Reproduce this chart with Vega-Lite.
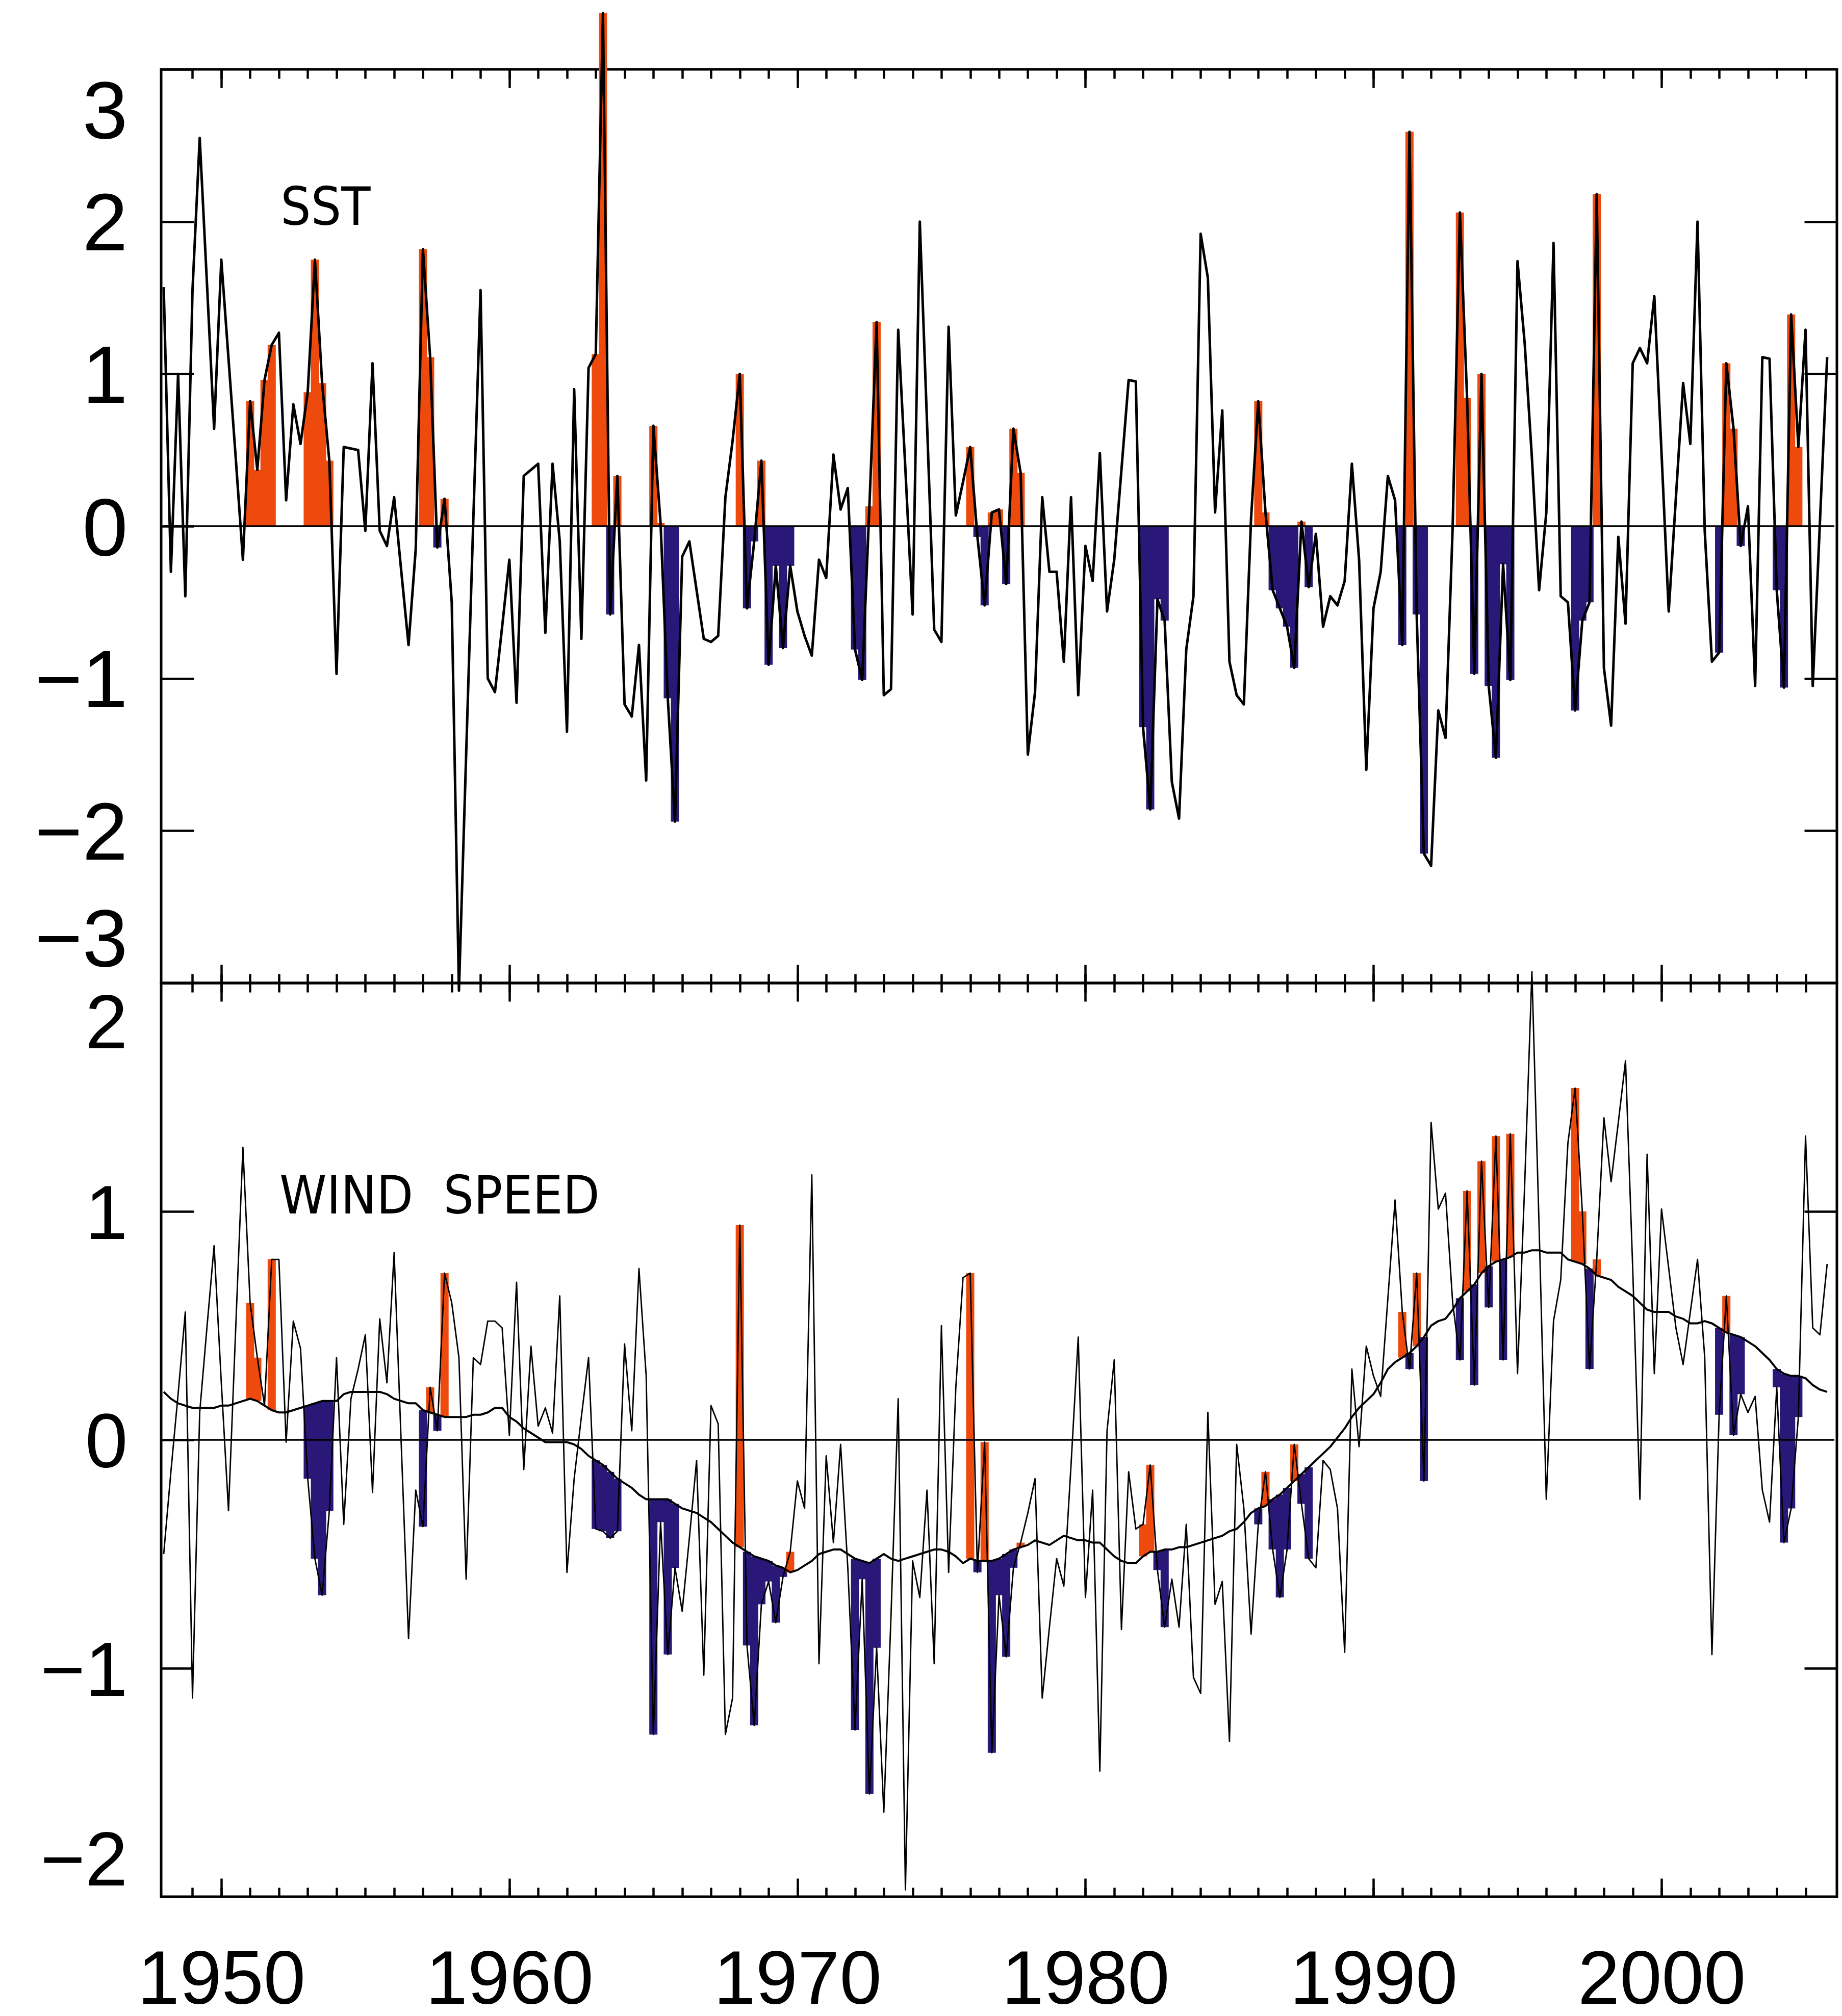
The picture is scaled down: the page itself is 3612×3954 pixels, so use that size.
{
"$schema": "https://vega.github.io/schema/vega-lite/v6.json",
"padding": {"left": 65, "top": 20, "right": 0, "bottom": 0},
"spacing": 0,
"bounds": "flush",
"config": {
  "view": {"stroke": "#000000", "strokeWidth": 5},
  "axis": {"domain": false, "grid": false, "tickColor": "#000000", "tickWidth": 4.5, "labelColor": "#000000", "labelFont": "Liberation Sans", "labelOverlap": false, "labelLimit": 1000}
},
"datasets": {"d": [
{"t":1948,"sst":1.57,"wind":-0.50,"smooth":0.21,"ev":0},
{"t":1948.25,"sst":-0.30,"wind":-0.14,"smooth":0.18,"ev":0},
{"t":1948.5,"sst":1.00,"wind":0.20,"smooth":0.16,"ev":0},
{"t":1948.75,"sst":-0.46,"wind":0.56,"smooth":0.15,"ev":0},
{"t":1949,"sst":1.55,"wind":-1.13,"smooth":0.14,"ev":0},
{"t":1949.25,"sst":2.55,"wind":0.12,"smooth":0.14,"ev":0},
{"t":1949.5,"sst":1.60,"wind":0.49,"smooth":0.14,"ev":0},
{"t":1949.75,"sst":0.64,"wind":0.85,"smooth":0.14,"ev":0},
{"t":1950,"sst":1.75,"wind":0.25,"smooth":0.15,"ev":0},
{"t":1950.25,"sst":1.10,"wind":-0.31,"smooth":0.15,"ev":0},
{"t":1950.5,"sst":0.45,"wind":0.49,"smooth":0.16,"ev":0},
{"t":1950.75,"sst":-0.22,"wind":1.28,"smooth":0.17,"ev":0},
{"t":1951,"sst":0.82,"wind":0.60,"smooth":0.18,"ev":1},
{"t":1951.25,"sst":0.37,"wind":0.36,"smooth":0.17,"ev":1},
{"t":1951.5,"sst":0.96,"wind":0.15,"smooth":0.15,"ev":1},
{"t":1951.75,"sst":1.19,"wind":0.79,"smooth":0.13,"ev":1},
{"t":1952,"sst":1.27,"wind":0.79,"smooth":0.12,"ev":0},
{"t":1952.25,"sst":0.17,"wind":-0.01,"smooth":0.12,"ev":0},
{"t":1952.5,"sst":0.80,"wind":0.52,"smooth":0.13,"ev":0},
{"t":1952.75,"sst":0.54,"wind":0.40,"smooth":0.14,"ev":0},
{"t":1953,"sst":0.88,"wind":-0.17,"smooth":0.15,"ev":1},
{"t":1953.25,"sst":1.75,"wind":-0.52,"smooth":0.16,"ev":1},
{"t":1953.5,"sst":0.94,"wind":-0.68,"smooth":0.17,"ev":1},
{"t":1953.75,"sst":0.43,"wind":-0.31,"smooth":0.17,"ev":1},
{"t":1954,"sst":-0.97,"wind":0.36,"smooth":0.17,"ev":0},
{"t":1954.25,"sst":0.52,"wind":-0.37,"smooth":0.20,"ev":0},
{"t":1954.5,"sst":0.51,"wind":0.18,"smooth":0.21,"ev":0},
{"t":1954.75,"sst":0.50,"wind":0.31,"smooth":0.21,"ev":0},
{"t":1955,"sst":-0.03,"wind":0.46,"smooth":0.21,"ev":0},
{"t":1955.25,"sst":1.07,"wind":-0.23,"smooth":0.21,"ev":0},
{"t":1955.5,"sst":-0.03,"wind":0.53,"smooth":0.21,"ev":0},
{"t":1955.75,"sst":-0.13,"wind":0.25,"smooth":0.20,"ev":0},
{"t":1956,"sst":0.19,"wind":0.82,"smooth":0.18,"ev":0},
{"t":1956.25,"sst":-0.30,"wind":-0.03,"smooth":0.17,"ev":0},
{"t":1956.5,"sst":-0.78,"wind":-0.87,"smooth":0.16,"ev":0},
{"t":1956.75,"sst":-0.15,"wind":-0.22,"smooth":0.16,"ev":0},
{"t":1957,"sst":1.82,"wind":-0.38,"smooth":0.13,"ev":1},
{"t":1957.25,"sst":1.11,"wind":0.23,"smooth":0.12,"ev":1},
{"t":1957.5,"sst":-0.14,"wind":0.04,"smooth":0.11,"ev":1},
{"t":1957.75,"sst":0.18,"wind":0.73,"smooth":0.10,"ev":1},
{"t":1958,"sst":-0.50,"wind":0.60,"smooth":0.10,"ev":0},
{"t":1958.25,"sst":-3.05,"wind":0.36,"smooth":0.10,"ev":0},
{"t":1958.5,"sst":-1.50,"wind":-0.61,"smooth":0.10,"ev":0},
{"t":1958.75,"sst":0.05,"wind":0.36,"smooth":0.11,"ev":0},
{"t":1959,"sst":1.55,"wind":0.33,"smooth":0.11,"ev":0},
{"t":1959.25,"sst":-1.00,"wind":0.52,"smooth":0.12,"ev":0},
{"t":1959.5,"sst":-1.09,"wind":0.52,"smooth":0.14,"ev":0},
{"t":1959.75,"sst":-0.66,"wind":0.49,"smooth":0.14,"ev":0},
{"t":1960,"sst":-0.22,"wind":0.02,"smooth":0.10,"ev":0},
{"t":1960.25,"sst":-1.16,"wind":0.69,"smooth":0.08,"ev":0},
{"t":1960.5,"sst":0.33,"wind":-0.13,"smooth":0.05,"ev":0},
{"t":1960.75,"sst":0.37,"wind":0.41,"smooth":0.03,"ev":0},
{"t":1961,"sst":0.41,"wind":0.06,"smooth":0.01,"ev":0},
{"t":1961.25,"sst":-0.70,"wind":0.14,"smooth":-0.01,"ev":0},
{"t":1961.5,"sst":0.41,"wind":0.03,"smooth":-0.01,"ev":0},
{"t":1961.75,"sst":-0.10,"wind":0.63,"smooth":-0.01,"ev":0},
{"t":1962,"sst":-1.35,"wind":-0.58,"smooth":-0.01,"ev":0},
{"t":1962.25,"sst":0.90,"wind":-0.17,"smooth":-0.02,"ev":0},
{"t":1962.5,"sst":-0.74,"wind":0.10,"smooth":-0.04,"ev":0},
{"t":1962.75,"sst":1.04,"wind":0.36,"smooth":-0.07,"ev":0},
{"t":1963,"sst":1.13,"wind":-0.39,"smooth":-0.09,"ev":1},
{"t":1963.25,"sst":3.37,"wind":-0.40,"smooth":-0.11,"ev":1},
{"t":1963.5,"sst":-0.58,"wind":-0.43,"smooth":-0.14,"ev":1},
{"t":1963.75,"sst":0.33,"wind":-0.40,"smooth":-0.17,"ev":1},
{"t":1964,"sst":-1.17,"wind":0.42,"smooth":-0.19,"ev":0},
{"t":1964.25,"sst":-1.25,"wind":0.04,"smooth":-0.21,"ev":0},
{"t":1964.5,"sst":-0.78,"wind":0.75,"smooth":-0.24,"ev":0},
{"t":1964.75,"sst":-1.67,"wind":0.28,"smooth":-0.26,"ev":0},
{"t":1965,"sst":0.66,"wind":-1.29,"smooth":-0.26,"ev":1},
{"t":1965.25,"sst":0.02,"wind":-0.36,"smooth":-0.26,"ev":1},
{"t":1965.5,"sst":-1.13,"wind":-0.94,"smooth":-0.26,"ev":1},
{"t":1965.75,"sst":-1.94,"wind":-0.56,"smooth":-0.28,"ev":1},
{"t":1966,"sst":-0.20,"wind":-0.75,"smooth":-0.30,"ev":0},
{"t":1966.25,"sst":-0.10,"wind":-0.43,"smooth":-0.31,"ev":0},
{"t":1966.5,"sst":-0.42,"wind":-0.09,"smooth":-0.32,"ev":0},
{"t":1966.75,"sst":-0.74,"wind":-1.03,"smooth":-0.34,"ev":0},
{"t":1967,"sst":-0.76,"wind":0.15,"smooth":-0.36,"ev":0},
{"t":1967.25,"sst":-0.72,"wind":0.07,"smooth":-0.39,"ev":0},
{"t":1967.5,"sst":0.19,"wind":-1.29,"smooth":-0.42,"ev":0},
{"t":1967.75,"sst":0.56,"wind":-1.13,"smooth":-0.45,"ev":0},
{"t":1968,"sst":1.00,"wind":0.94,"smooth":-0.47,"ev":1},
{"t":1968.25,"sst":-0.54,"wind":-0.90,"smooth":-0.49,"ev":1},
{"t":1968.5,"sst":-0.10,"wind":-1.25,"smooth":-0.51,"ev":1},
{"t":1968.75,"sst":0.43,"wind":-0.72,"smooth":-0.52,"ev":1},
{"t":1969,"sst":-0.91,"wind":-0.62,"smooth":-0.53,"ev":1},
{"t":1969.25,"sst":-0.26,"wind":-0.80,"smooth":-0.55,"ev":1},
{"t":1969.5,"sst":-0.80,"wind":-0.60,"smooth":-0.56,"ev":1},
{"t":1969.75,"sst":-0.26,"wind":-0.49,"smooth":-0.58,"ev":1},
{"t":1970,"sst":-0.56,"wind":-0.18,"smooth":-0.57,"ev":0},
{"t":1970.25,"sst":-0.72,"wind":-0.30,"smooth":-0.55,"ev":0},
{"t":1970.5,"sst":-0.85,"wind":1.16,"smooth":-0.53,"ev":0},
{"t":1970.75,"sst":-0.22,"wind":-0.98,"smooth":-0.50,"ev":0},
{"t":1971,"sst":-0.34,"wind":-0.07,"smooth":-0.49,"ev":0},
{"t":1971.25,"sst":0.47,"wind":-0.45,"smooth":-0.48,"ev":0},
{"t":1971.5,"sst":0.11,"wind":-0.02,"smooth":-0.48,"ev":0},
{"t":1971.75,"sst":0.25,"wind":-0.56,"smooth":-0.50,"ev":0},
{"t":1972,"sst":-0.81,"wind":-1.27,"smooth":-0.52,"ev":1},
{"t":1972.25,"sst":-1.01,"wind":-0.61,"smooth":-0.53,"ev":1},
{"t":1972.5,"sst":0.13,"wind":-1.55,"smooth":-0.54,"ev":1},
{"t":1972.75,"sst":1.34,"wind":-0.91,"smooth":-0.52,"ev":1},
{"t":1973,"sst":-1.11,"wind":-1.63,"smooth":-0.50,"ev":0},
{"t":1973.25,"sst":-1.07,"wind":-0.77,"smooth":-0.52,"ev":0},
{"t":1973.5,"sst":1.29,"wind":0.18,"smooth":-0.53,"ev":0},
{"t":1973.75,"sst":0.37,"wind":-1.97,"smooth":-0.52,"ev":0},
{"t":1974,"sst":-0.58,"wind":-0.53,"smooth":-0.51,"ev":0},
{"t":1974.25,"sst":2.00,"wind":-0.69,"smooth":-0.50,"ev":0},
{"t":1974.5,"sst":0.68,"wind":-0.22,"smooth":-0.49,"ev":0},
{"t":1974.75,"sst":-0.68,"wind":-0.98,"smooth":-0.48,"ev":0},
{"t":1975,"sst":-0.76,"wind":0.50,"smooth":-0.48,"ev":0},
{"t":1975.25,"sst":1.31,"wind":-0.58,"smooth":-0.49,"ev":0},
{"t":1975.5,"sst":0.07,"wind":0.23,"smooth":-0.51,"ev":0},
{"t":1975.75,"sst":0.29,"wind":0.71,"smooth":-0.54,"ev":0},
{"t":1976,"sst":0.52,"wind":0.73,"smooth":-0.52,"ev":1},
{"t":1976.25,"sst":-0.07,"wind":-0.58,"smooth":-0.53,"ev":1},
{"t":1976.5,"sst":-0.52,"wind":-0.01,"smooth":-0.53,"ev":1},
{"t":1976.75,"sst":0.09,"wind":-1.37,"smooth":-0.53,"ev":1},
{"t":1977,"sst":0.11,"wind":-0.68,"smooth":-0.52,"ev":1},
{"t":1977.25,"sst":-0.38,"wind":-0.95,"smooth":-0.50,"ev":1},
{"t":1977.5,"sst":0.64,"wind":-0.56,"smooth":-0.48,"ev":1},
{"t":1977.75,"sst":0.35,"wind":-0.45,"smooth":-0.47,"ev":1},
{"t":1978,"sst":-1.50,"wind":-0.32,"smooth":-0.46,"ev":0},
{"t":1978.25,"sst":-1.09,"wind":-0.17,"smooth":-0.44,"ev":0},
{"t":1978.5,"sst":0.19,"wind":-1.13,"smooth":-0.45,"ev":0},
{"t":1978.75,"sst":-0.30,"wind":-0.82,"smooth":-0.46,"ev":0},
{"t":1979,"sst":-0.30,"wind":-0.52,"smooth":-0.44,"ev":0},
{"t":1979.25,"sst":-0.89,"wind":-0.64,"smooth":-0.42,"ev":0},
{"t":1979.5,"sst":0.19,"wind":-0.11,"smooth":-0.43,"ev":0},
{"t":1979.75,"sst":-1.11,"wind":0.45,"smooth":-0.44,"ev":0},
{"t":1980,"sst":-0.13,"wind":-0.69,"smooth":-0.44,"ev":0},
{"t":1980.25,"sst":-0.36,"wind":-0.22,"smooth":-0.45,"ev":0},
{"t":1980.5,"sst":0.48,"wind":-1.45,"smooth":-0.45,"ev":0},
{"t":1980.75,"sst":-0.56,"wind":0.04,"smooth":-0.48,"ev":0},
{"t":1981,"sst":-0.22,"wind":0.35,"smooth":-0.51,"ev":0},
{"t":1981.25,"sst":0.37,"wind":-0.83,"smooth":-0.53,"ev":0},
{"t":1981.5,"sst":0.96,"wind":-0.14,"smooth":-0.54,"ev":0},
{"t":1981.75,"sst":0.95,"wind":-0.39,"smooth":-0.54,"ev":0},
{"t":1982,"sst":-1.32,"wind":-0.37,"smooth":-0.51,"ev":1},
{"t":1982.25,"sst":-1.86,"wind":-0.11,"smooth":-0.49,"ev":1},
{"t":1982.5,"sst":-0.48,"wind":-0.57,"smooth":-0.49,"ev":1},
{"t":1982.75,"sst":-0.62,"wind":-0.82,"smooth":-0.48,"ev":1},
{"t":1983,"sst":-1.68,"wind":-0.61,"smooth":-0.48,"ev":0},
{"t":1983.25,"sst":-1.92,"wind":-0.82,"smooth":-0.47,"ev":0},
{"t":1983.5,"sst":-0.81,"wind":-0.37,"smooth":-0.47,"ev":0},
{"t":1983.75,"sst":-0.46,"wind":-1.04,"smooth":-0.46,"ev":0},
{"t":1984,"sst":1.92,"wind":-1.11,"smooth":-0.45,"ev":0},
{"t":1984.25,"sst":1.63,"wind":0.12,"smooth":-0.44,"ev":0},
{"t":1984.5,"sst":0.09,"wind":-0.72,"smooth":-0.43,"ev":0},
{"t":1984.75,"sst":0.76,"wind":-0.62,"smooth":-0.42,"ev":0},
{"t":1985,"sst":-0.89,"wind":-1.32,"smooth":-0.40,"ev":0},
{"t":1985.25,"sst":-1.11,"wind":-0.02,"smooth":-0.39,"ev":0},
{"t":1985.5,"sst":-1.17,"wind":-0.30,"smooth":-0.36,"ev":0},
{"t":1985.75,"sst":0.05,"wind":-0.85,"smooth":-0.32,"ev":0},
{"t":1986,"sst":0.82,"wind":-0.37,"smooth":-0.30,"ev":1},
{"t":1986.25,"sst":0.09,"wind":-0.14,"smooth":-0.29,"ev":1},
{"t":1986.5,"sst":-0.42,"wind":-0.48,"smooth":-0.26,"ev":1},
{"t":1986.75,"sst":-0.54,"wind":-0.69,"smooth":-0.24,"ev":1},
{"t":1987,"sst":-0.66,"wind":-0.48,"smooth":-0.21,"ev":1},
{"t":1987.25,"sst":-0.93,"wind":-0.02,"smooth":-0.18,"ev":1},
{"t":1987.5,"sst":0.03,"wind":-0.28,"smooth":-0.15,"ev":1},
{"t":1987.75,"sst":-0.40,"wind":-0.52,"smooth":-0.12,"ev":1},
{"t":1988,"sst":-0.05,"wind":-0.56,"smooth":-0.09,"ev":0},
{"t":1988.25,"sst":-0.66,"wind":-0.09,"smooth":-0.06,"ev":0},
{"t":1988.5,"sst":-0.46,"wind":-0.13,"smooth":-0.03,"ev":0},
{"t":1988.75,"sst":-0.52,"wind":-0.30,"smooth":0.01,"ev":0},
{"t":1989,"sst":-0.36,"wind":-0.93,"smooth":0.05,"ev":0},
{"t":1989.25,"sst":0.41,"wind":0.31,"smooth":0.10,"ev":0},
{"t":1989.5,"sst":-0.22,"wind":-0.03,"smooth":0.14,"ev":0},
{"t":1989.75,"sst":-1.60,"wind":0.41,"smooth":0.17,"ev":0},
{"t":1990,"sst":-0.54,"wind":0.28,"smooth":0.20,"ev":0},
{"t":1990.25,"sst":-0.30,"wind":0.19,"smooth":0.25,"ev":0},
{"t":1990.5,"sst":0.33,"wind":0.62,"smooth":0.31,"ev":0},
{"t":1990.75,"sst":0.17,"wind":1.05,"smooth":0.34,"ev":0},
{"t":1991,"sst":-0.78,"wind":0.56,"smooth":0.36,"ev":1},
{"t":1991.25,"sst":2.59,"wind":0.31,"smooth":0.38,"ev":1},
{"t":1991.5,"sst":-0.58,"wind":0.73,"smooth":0.41,"ev":1},
{"t":1991.75,"sst":-2.15,"wind":-0.18,"smooth":0.45,"ev":1},
{"t":1992,"sst":-2.23,"wind":1.39,"smooth":0.50,"ev":0},
{"t":1992.25,"sst":-1.21,"wind":1.01,"smooth":0.52,"ev":0},
{"t":1992.5,"sst":-1.39,"wind":1.08,"smooth":0.53,"ev":0},
{"t":1992.75,"sst":0.00,"wind":0.60,"smooth":0.57,"ev":0},
{"t":1993,"sst":2.06,"wind":0.35,"smooth":0.62,"ev":1},
{"t":1993.25,"sst":0.84,"wind":1.09,"smooth":0.65,"ev":1},
{"t":1993.5,"sst":-0.97,"wind":0.24,"smooth":0.68,"ev":1},
{"t":1993.75,"sst":1.00,"wind":1.22,"smooth":0.73,"ev":1},
{"t":1994,"sst":-1.05,"wind":0.58,"smooth":0.76,"ev":1},
{"t":1994.25,"sst":-1.52,"wind":1.33,"smooth":0.78,"ev":1},
{"t":1994.5,"sst":-0.25,"wind":0.35,"smooth":0.79,"ev":1},
{"t":1994.75,"sst":-1.01,"wind":1.34,"smooth":0.80,"ev":1},
{"t":1995,"sst":1.74,"wind":0.29,"smooth":0.82,"ev":0},
{"t":1995.25,"sst":1.20,"wind":1.12,"smooth":0.82,"ev":0},
{"t":1995.5,"sst":0.45,"wind":2.05,"smooth":0.83,"ev":0},
{"t":1995.75,"sst":-0.42,"wind":0.93,"smooth":0.83,"ev":0},
{"t":1996,"sst":0.09,"wind":-0.26,"smooth":0.82,"ev":0},
{"t":1996.25,"sst":1.86,"wind":0.52,"smooth":0.82,"ev":0},
{"t":1996.5,"sst":-0.46,"wind":0.70,"smooth":0.82,"ev":0},
{"t":1996.75,"sst":-0.50,"wind":1.30,"smooth":0.79,"ev":0},
{"t":1997,"sst":-1.21,"wind":1.54,"smooth":0.78,"ev":1},
{"t":1997.25,"sst":-0.62,"wind":1.00,"smooth":0.77,"ev":1},
{"t":1997.5,"sst":-0.50,"wind":0.31,"smooth":0.75,"ev":1},
{"t":1997.75,"sst":2.18,"wind":0.79,"smooth":0.72,"ev":1},
{"t":1998,"sst":-0.93,"wind":1.41,"smooth":0.71,"ev":0},
{"t":1998.25,"sst":-1.31,"wind":1.13,"smooth":0.70,"ev":0},
{"t":1998.5,"sst":-0.07,"wind":1.39,"smooth":0.67,"ev":0},
{"t":1998.75,"sst":-0.64,"wind":1.66,"smooth":0.65,"ev":0},
{"t":1999,"sst":1.07,"wind":0.75,"smooth":0.63,"ev":0},
{"t":1999.25,"sst":1.17,"wind":-0.26,"smooth":0.60,"ev":0},
{"t":1999.5,"sst":1.07,"wind":1.25,"smooth":0.57,"ev":0},
{"t":1999.75,"sst":1.51,"wind":0.29,"smooth":0.56,"ev":0},
{"t":2000,"sst":0.48,"wind":1.01,"smooth":0.56,"ev":0},
{"t":2000.25,"sst":-0.56,"wind":0.75,"smooth":0.56,"ev":0},
{"t":2000.5,"sst":0.19,"wind":0.49,"smooth":0.54,"ev":0},
{"t":2000.75,"sst":0.94,"wind":0.33,"smooth":0.53,"ev":0},
{"t":2001,"sst":0.54,"wind":0.56,"smooth":0.51,"ev":0},
{"t":2001.25,"sst":2.00,"wind":0.79,"smooth":0.51,"ev":0},
{"t":2001.5,"sst":-0.03,"wind":0.36,"smooth":0.52,"ev":0},
{"t":2001.75,"sst":-0.89,"wind":-0.94,"smooth":0.51,"ev":0},
{"t":2002,"sst":-0.83,"wind":0.11,"smooth":0.49,"ev":1},
{"t":2002.25,"sst":1.07,"wind":0.63,"smooth":0.47,"ev":1},
{"t":2002.5,"sst":0.64,"wind":0.02,"smooth":0.46,"ev":1},
{"t":2002.75,"sst":-0.13,"wind":0.20,"smooth":0.45,"ev":1},
{"t":2003,"sst":0.13,"wind":0.12,"smooth":0.43,"ev":0},
{"t":2003.25,"sst":-1.05,"wind":0.19,"smooth":0.41,"ev":0},
{"t":2003.5,"sst":1.11,"wind":-0.22,"smooth":0.38,"ev":0},
{"t":2003.75,"sst":1.10,"wind":-0.36,"smooth":0.35,"ev":0},
{"t":2004,"sst":-0.42,"wind":0.23,"smooth":0.31,"ev":1},
{"t":2004.25,"sst":-1.06,"wind":-0.45,"smooth":0.29,"ev":1},
{"t":2004.5,"sst":1.39,"wind":-0.30,"smooth":0.28,"ev":1},
{"t":2004.75,"sst":0.52,"wind":0.10,"smooth":0.28,"ev":1},
{"t":2005,"sst":1.29,"wind":1.33,"smooth":0.27,"ev":0},
{"t":2005.25,"sst":-1.05,"wind":0.49,"smooth":0.24,"ev":0},
{"t":2005.5,"sst":0.03,"wind":0.46,"smooth":0.22,"ev":0},
{"t":2005.75,"sst":1.11,"wind":0.77,"smooth":0.21,"ev":0}
]},
"vconcat": [
{
  "width": 3286, "height": 1792,
  "data": {"name": "d"},
  "resolve": {"axis": {"x": "independent", "y": "independent"}},
  "layer": [
    {
      "transform": [{"filter": "datum.ev == 1"}],
      "mark": {"type": "bar", "width": 16},
      "encoding": {
        "x": {"field": "t", "type": "quantitative", "scale": {"domain": [1948, 2006], "nice": false, "zero": false},
              "axis": {"orient": "top", "values": [1950, 1960, 1970, 1980, 1990, 2000], "tickSize": -36, "labels": false, "title": null}},
        "y": {"field": "sst", "type": "quantitative", "scale": {"domain": [-3, 3], "nice": false},
              "axis": {"orient": "right", "values": [-2, -1, 1, 2], "tickSize": -64, "labels": false, "title": null}},
        "y2": {"datum": 0},
        "color": {"condition": {"test": "datum.sst > 0", "value": "#EE4A0E"}, "value": "#2A1878"}
      }
    },
    {
      "mark": {"type": "line", "color": "#000000", "strokeWidth": 5, "strokeJoin": "round"},
      "encoding": {
        "x": {"field": "t", "type": "quantitative", "scale": {"domain": [1948, 2006], "nice": false, "zero": false},
              "axis": {"orient": "bottom", "values": [1950, 1960, 1970, 1980, 1990, 2000], "tickSize": -36, "labels": false, "title": null}},
        "y": {"field": "sst", "type": "quantitative", "scale": {"domain": [-3, 3], "nice": false},
              "axis": {"orient": "left", "values": [-3, -2, -1, 0, 1, 2, 3], "tickSize": -64, "labelPadding": 130, "labelFontSize": 160, "labelFlush": true,
                       "labelOffset": {"condition": {"test": "datum.value == -3", "value": 0}, "value": 8}, "title": null}}
      }
    },
    {
      "data": {"values": [{}]},
      "mark": {"type": "rule", "color": "#000000", "strokeWidth": 3.5},
      "encoding": {
        "x": {"datum": 1948, "type": "quantitative",
              "axis": {"orient": "top", "values": [1949,1950,1951,1952,1953,1954,1955,1956,1957,1958,1959,1960,1961,1962,1963,1964,1965,1966,1967,1968,1969,1970,1971,1972,1973,1974,1975,1976,1977,1978,1979,1980,1981,1982,1983,1984,1985,1986,1987,1988,1989,1990,1991,1992,1993,1994,1995,1996,1997,1998,1999,2000,2001,2002,2003,2004,2005], "tickSize": -18, "labels": false, "title": null}},
        "x2": {"datum": 2006},
        "y": {"datum": 0, "type": "quantitative", "axis": null}
      }
    },
    {
      "data": {"values": [{}]},
      "mark": {"type": "text", "text": "SST", "font": "Liberation Sans Narrow, DejaVu Sans Condensed, Liberation Sans", "fontSize": 104, "align": "left", "baseline": "alphabetic", "color": "#000000"},
      "encoding": {
        "x": {"datum": 1952.06, "type": "quantitative",
              "axis": {"orient": "bottom", "values": [1949,1950,1951,1952,1953,1954,1955,1956,1957,1958,1959,1960,1961,1962,1963,1964,1965,1966,1967,1968,1969,1970,1971,1972,1973,1974,1975,1976,1977,1978,1979,1980,1981,1982,1983,1984,1985,1986,1987,1988,1989,1990,1991,1992,1993,1994,1995,1996,1997,1998,1999,2000,2001,2002,2003,2004,2005], "tickSize": -18, "labels": false, "title": null}},
        "y": {"datum": 1.98, "type": "quantitative", "axis": null}
      }
    }
  ]
},
{
  "width": 3286, "height": 1792,
  "data": {"name": "d"},
  "resolve": {"axis": {"x": "independent", "y": "independent"}},
  "layer": [
    {
      "transform": [{"filter": "datum.ev == 1"}],
      "mark": {"type": "bar", "width": 16},
      "encoding": {
        "x": {"field": "t", "type": "quantitative", "scale": {"domain": [1948, 2006], "nice": false, "zero": false},
              "axis": {"orient": "top", "values": [1950, 1960, 1970, 1980, 1990, 2000], "tickSize": -36, "labels": false, "title": null}},
        "y": {"field": "wind", "type": "quantitative", "scale": {"domain": [-2, 2], "nice": false},
              "axis": {"orient": "right", "values": [-1, 1], "tickSize": -64, "labels": false, "title": null}},
        "y2": {"field": "smooth"},
        "color": {"condition": {"test": "datum.wind > datum.smooth", "value": "#EE4A0E"}, "value": "#2A1878"}
      }
    },
    {
      "mark": {"type": "line", "color": "#000000", "strokeWidth": 2.8, "strokeJoin": "round"},
      "encoding": {
        "x": {"field": "t", "type": "quantitative", "scale": {"domain": [1948, 2006], "nice": false, "zero": false},
              "axis": {"orient": "bottom", "values": [1950, 1960, 1970, 1980, 1990, 2000], "format": "d", "tickSize": -36, "labelPadding": 128, "labelFontSize": 148, "labelFlush": false, "title": null}},
        "y": {"field": "wind", "type": "quantitative", "scale": {"domain": [-2, 2], "nice": false},
              "axis": {"orient": "left", "values": [-2, -1, 0, 1, 2], "tickSize": -64, "labelPadding": 130, "labelFontSize": 150, "labelFlush": true, "labelOffset": 8, "title": null}}
      }
    },
    {
      "mark": {"type": "line", "color": "#000000", "strokeWidth": 4, "strokeJoin": "round"},
      "encoding": {
        "x": {"field": "t", "type": "quantitative",
              "axis": {"orient": "bottom", "values": [1949,1950,1951,1952,1953,1954,1955,1956,1957,1958,1959,1960,1961,1962,1963,1964,1965,1966,1967,1968,1969,1970,1971,1972,1973,1974,1975,1976,1977,1978,1979,1980,1981,1982,1983,1984,1985,1986,1987,1988,1989,1990,1991,1992,1993,1994,1995,1996,1997,1998,1999,2000,2001,2002,2003,2004,2005], "tickSize": -18, "labels": false, "title": null}},
        "y": {"field": "smooth", "type": "quantitative", "axis": null}
      }
    },
    {
      "data": {"values": [{}]},
      "mark": {"type": "rule", "color": "#000000", "strokeWidth": 3.5},
      "encoding": {
        "x": {"datum": 1948, "type": "quantitative",
              "axis": {"orient": "top", "values": [1949,1950,1951,1952,1953,1954,1955,1956,1957,1958,1959,1960,1961,1962,1963,1964,1965,1966,1967,1968,1969,1970,1971,1972,1973,1974,1975,1976,1977,1978,1979,1980,1981,1982,1983,1984,1985,1986,1987,1988,1989,1990,1991,1992,1993,1994,1995,1996,1997,1998,1999,2000,2001,2002,2003,2004,2005], "tickSize": -18, "labels": false, "title": null}},
        "x2": {"datum": 2006},
        "y": {"datum": 0, "type": "quantitative", "axis": null}
      }
    },
    {
      "data": {"values": [{}]},
      "mark": {"type": "text", "text": "WIND\u00a0\u00a0SPEED", "font": "Liberation Sans Narrow, DejaVu Sans Condensed, Liberation Sans", "fontSize": 104, "align": "left", "baseline": "alphabetic", "color": "#000000"},
      "encoding": {
        "x": {"datum": 1952.02, "type": "quantitative", "axis": null},
        "y": {"datum": 0.99, "type": "quantitative", "axis": null}
      }
    }
  ]
}
]
}
